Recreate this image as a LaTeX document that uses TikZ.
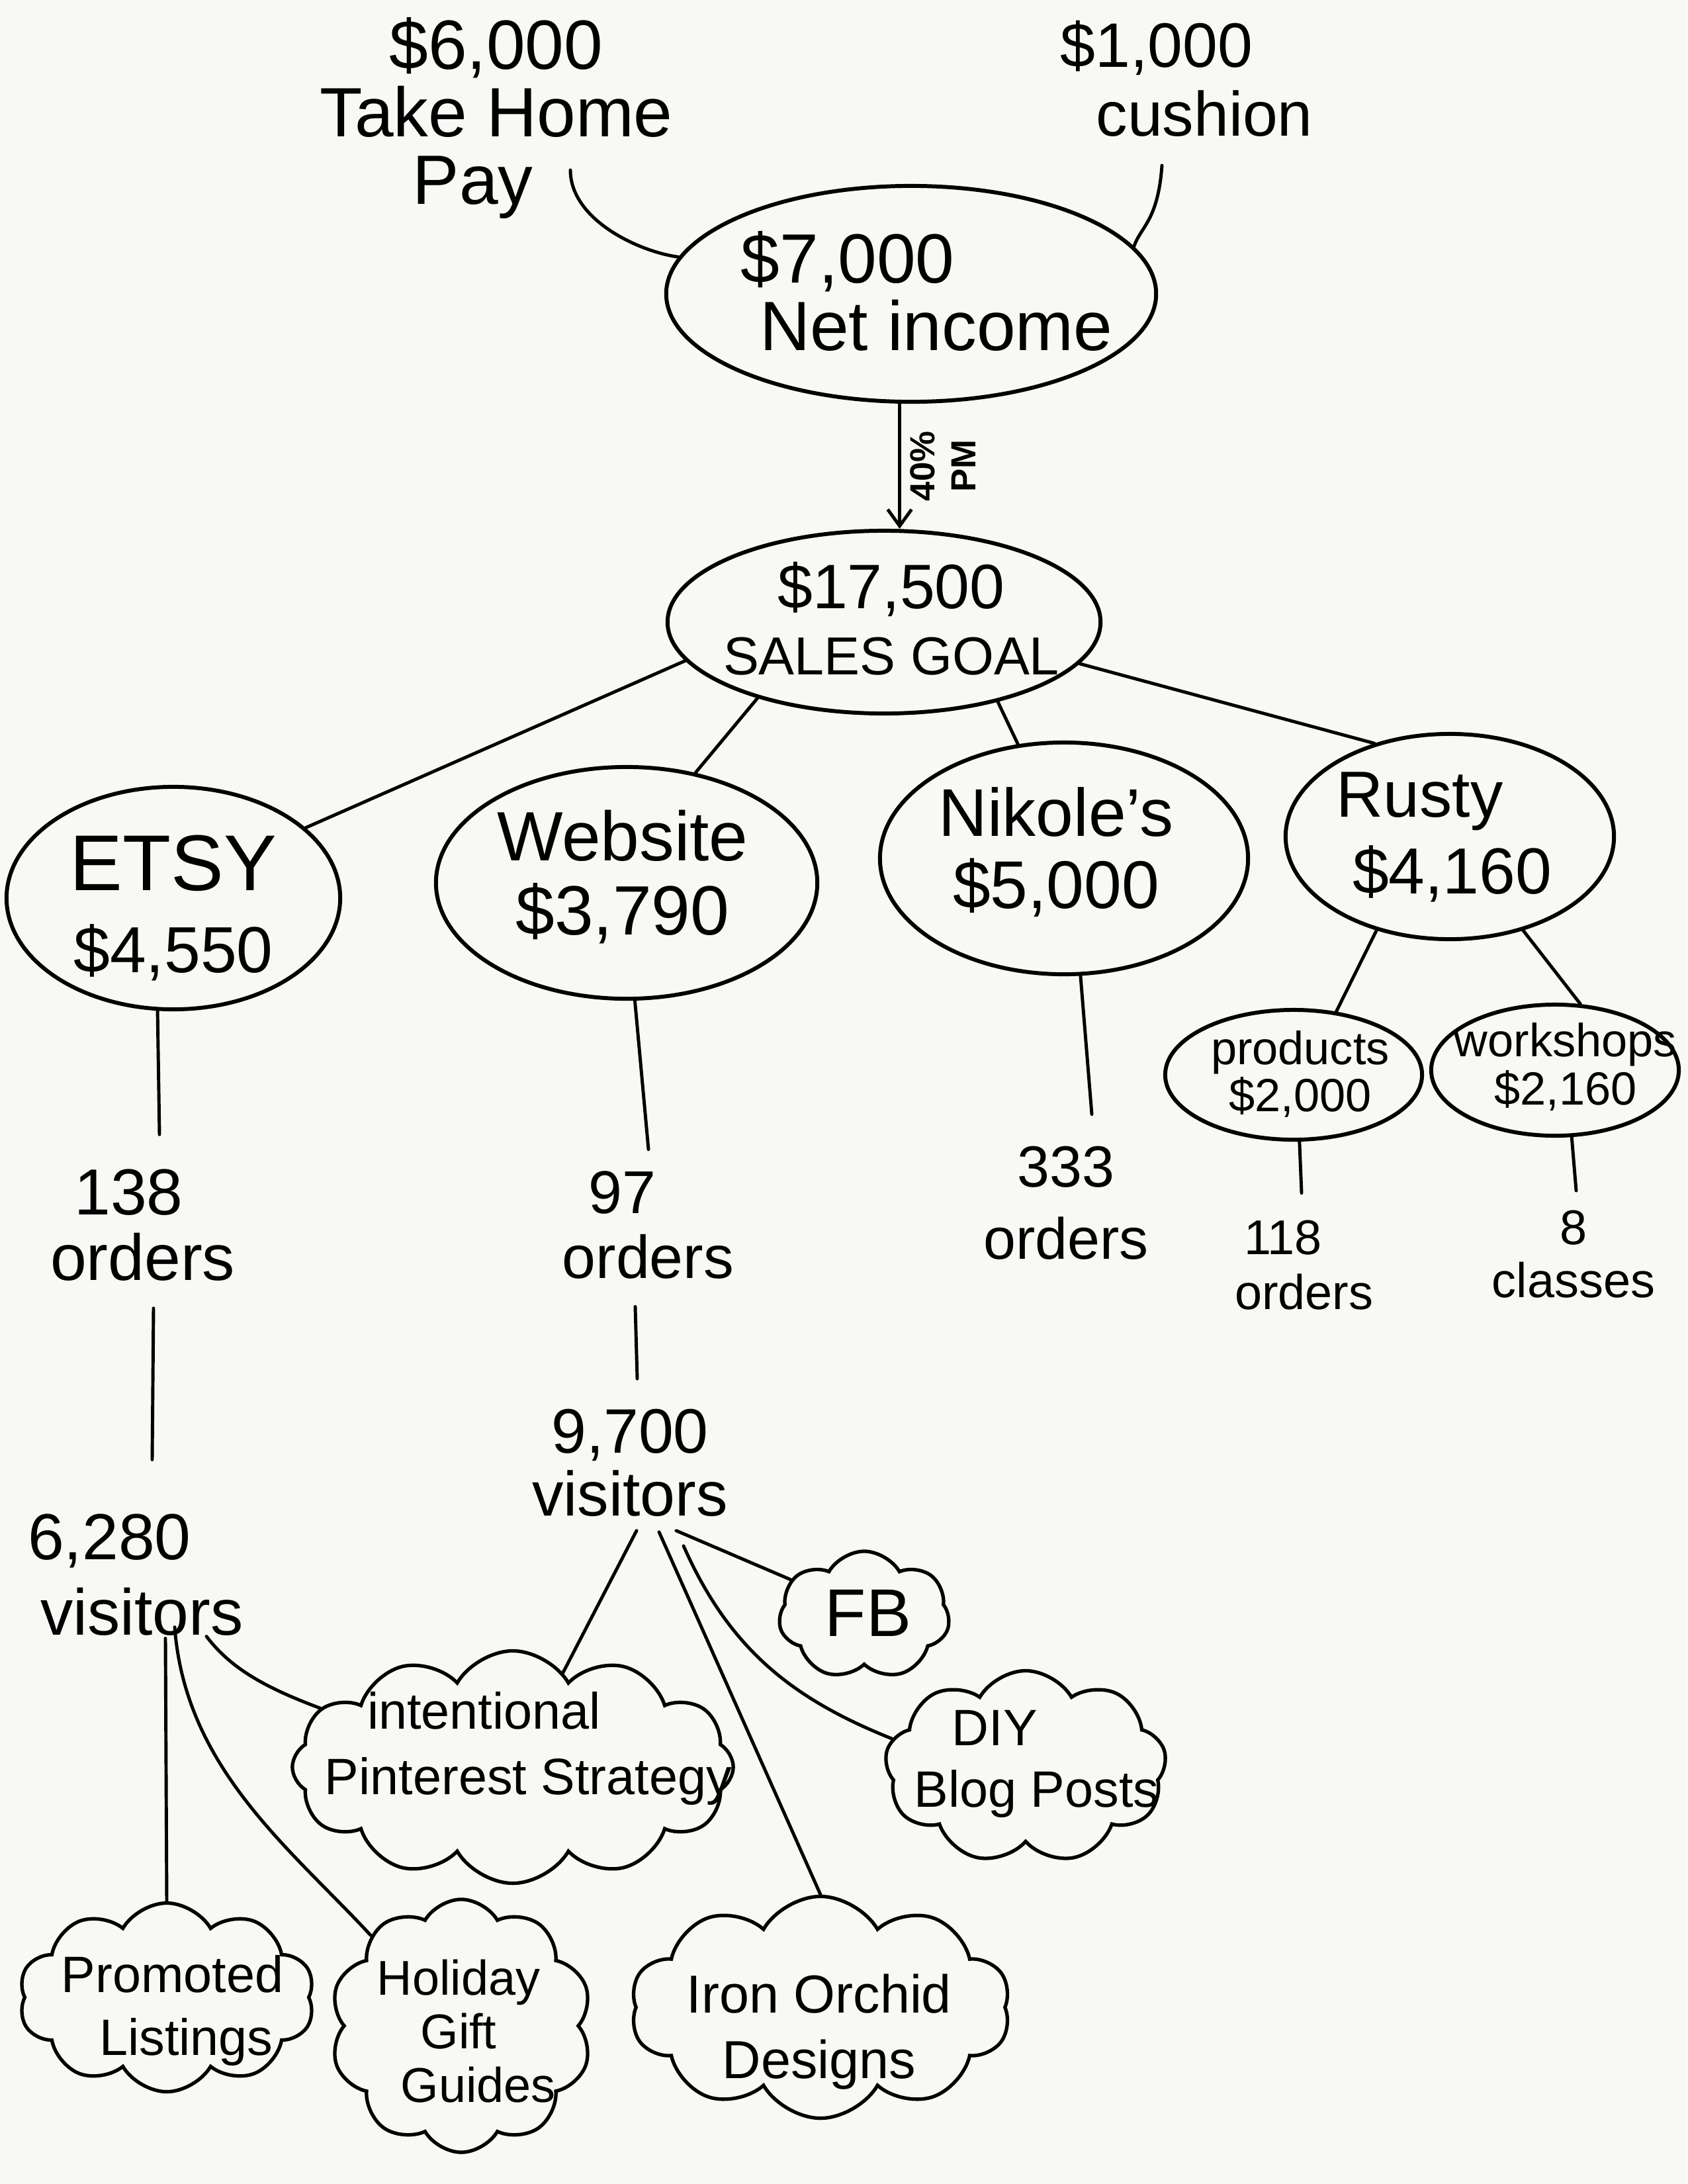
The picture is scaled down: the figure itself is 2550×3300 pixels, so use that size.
\documentclass[tikz,border=0pt]{standalone}
\usepackage{fontspec}
\setmainfont{Liberation Sans}
\usetikzlibrary{shapes.geometric,shapes.symbols,arrows.meta,calc}
\definecolor{paper}{RGB}{248,248,244}
\newcommand{\myfs}[2]{\fontsize{#1}{#2}\selectfont}
\begin{document}
\begin{tikzpicture}[x=0.01cm,y=-0.01cm,
 oval/.style={draw, ellipse, line width=1.7pt, inner sep=0pt},
 puff/.style={draw, cloud, cloud puffs=#1, cloud puff arc=120, cloud ignores aspect, line width=1.5pt, inner sep=0pt},
 txt/.style={align=center, inner sep=0pt},
 conn/.style={line width=1.4pt, line cap=round},
]
\fill[paper] (0,0) rectangle (2550,3300);
\useasboundingbox (0,0) rectangle (2550,3300);

% ovals
\node[oval, minimum width=7.4cm, minimum height=3.26cm] (ni) at (1377,444) {};
\node[oval, minimum width=6.54cm, minimum height=2.76cm] (sg) at (1336,940) {};
\node[oval, minimum width=5.04cm, minimum height=3.36cm] (et) at (262,1357) {};
\node[oval, minimum width=5.76cm, minimum height=3.5cm] (wb) at (947,1334) {};
\node[oval, minimum width=5.56cm, minimum height=3.5cm] (nk) at (1608,1297) {};
\node[oval, minimum width=4.96cm, minimum height=3.1cm] (rs) at (2191,1264) {};
\node[oval, minimum width=3.88cm, minimum height=1.96cm] (pr) at (1955,1624) {};
\node[oval, minimum width=3.74cm, minimum height=1.98cm] (ws) at (2350,1617) {};

% clouds
\node[puff=7, minimum width=2.58cm, minimum height=1.94cm] (fb) at (1306,2441) {};
\node[puff=12, minimum width=6.66cm, minimum height=3.51cm] (pin) at (775,2670) {};
\node[puff=9, minimum width=4.25cm, minimum height=2.91cm] (diy) at (1550,2670) {};
\node[puff=10, minimum width=4.47cm, minimum height=2.85cm] (pro) at (252,3018) {};
\node[puff=10, minimum width=3.96cm, minimum height=3.82cm] (hol) at (697,3061) {};
\node[puff=10, minimum width=5.74cm, minimum height=3.35cm] (io) at (1240,3033) {};

% texts
\node[txt, font=\myfs{30}{29}] (tpay) at (750,178) {\$6,000\\Take Home\\Pay\hspace*{20pt}};
\node[txt, font=\myfs{27}{29.5}] (cush) at (1785,119) {\$1,000\hspace*{21pt}\\\hspace*{20pt}cushion};
\node[txt, font=\myfs{30}{29}] (niT) at (1348,440) {\$7,000\hspace*{38pt}\\\hspace*{38pt}Net income};
\node[txt, font=\myfs{23}{28.5}] (sgT) at (1347,935) {{\myfs{27}{28.5}\$17,500}\\SALES GOAL};
\node[txt, font=\myfs{28}{35}] (etT) at (262,1372) {{\myfs{34}{35}ETSY}\\\$4,550};
\node[txt, font=\myfs{30}{32}] (wbT) at (941,1325) {Website\\\$3,790};
\node[txt, font=\myfs{29}{31}] (nkT) at (1596,1288) {Nikole's\\\$5,000};
\node[txt, font=\myfs{28}{33}] (rsT) at (2170,1265) {Rusty\hspace*{14pt}\\\hspace*{14pt}\$4,160};
\node[txt, font=\myfs{20}{20}] (prT) at (1965,1623) {products\\\$2,000};
\node[txt, font=\myfs{20}{20.5}] (wsT) at (2366,1612) {workshops\\\$2,160};

\node[txt, font=\myfs{28}{28}] (o138) at (205,1851) {138\hspace*{6pt}\\\hspace*{6pt}orders};
\node[txt, font=\myfs{26}{28}] (o97) at (960,1851) {97\hspace*{11pt}\\\hspace*{11pt}orders};
\node[txt, font=\myfs{25}{31}] (o333) at (1611,1818) {333\\orders};
\node[txt, font=\myfs{21}{23.6}] (o118) at (1955,1912) {118\hspace*{9pt}\\\hspace*{9pt}orders};
\node[txt, font=\myfs{21}{22.8}] (cl8) at (2378,1895) {8\\classes};
\node[txt, font=\myfs{28}{32.4}] (v6280) at (190,2380) {6,280\hspace*{14pt}\\\hspace*{14pt}visitors};
\node[txt, font=\myfs{27}{27}] (v9700) at (952,2210) {9,700\\visitors};

\node[txt, font=\myfs{29}{29}] (fbT) at (1312,2437) {FB};
\node[txt, font=\myfs{22}{28}] (pinT) at (765,2642) {intentional\hspace*{19pt}\\\hspace*{19pt}Pinterest Strategy};
\node[txt, font=\myfs{22}{26.5}] (diyT) at (1535,2665) {DIY\hspace*{18pt}\\\hspace*{18pt}Blog Posts};
\node[txt, font=\myfs{22}{27}] (proT) at (271,3038) {Promoted\hspace*{6pt}\\\hspace*{6pt}Listings};
\node[txt, font=\myfs{21}{23}] (holT) at (693,3069) {Holiday\\Gift\hspace*{19pt}\\\hspace*{17pt}Guides};
\node[txt, font=\myfs{23}{28}] (ioT) at (1238,3070) {Iron Orchid\\Designs};

% connectors top
\draw[conn] ($(tpay.center)+(112,79)$) .. controls ($(tpay.center)+(112,154)$) and ($(ni.171)+(-60,-8)$) .. (ni.171);
\draw[conn] ($(cush.center)+(-29,131)$) .. controls ($(cush.center)+(-35,215)$) and ($(ni.12)+(10,-30)$) .. (ni.12);
\draw[conn, -{Straight Barb[length=0.25cm, width=0.36cm]}] (ni.264) -- (ni.264 |- sg.north)
  node[pos=0.5, rotate=90, anchor=north, align=center, inner sep=4pt, font=\myfs{15}{17.5}\bfseries] (pm) {40\%\\PM};

\draw[conn] (sg.191) -- (et.28);
\draw[conn] (sg.211) -- (wb.58);
\draw[conn] (sg.325) -- (nk.112);
\draw[conn] (sg.348) -- (rs.129);
\draw[conn] (rs.232) -- (pr.56);
\draw[conn] (rs.308) -- (ws.69);

% orders
\draw[conn] (et.262) -- ($(o138.north)+(36,-52)$);
\draw[conn] ($(o138.south)+(27,41)$) -- ($(v6280.north)+(40,-82)$);
\draw[conn] (wb.274) -- ($(o97.north)+(20,-32)$);
\draw[conn] ($(o97.south)+(0,41)$) -- ($(v9700.north)+(11,-45)$);
\draw[conn] (nk.278) -- ($(o333.north)+(39,-48)$);
\draw[conn] (pr.275) -- ($(o118.north)+(12,-41)$);
\draw[conn] (ws.284) -- ($(cl8.north)+(4,-29)$);

% visitors to clouds
\draw[conn] ($(v6280.south)+(122,0)$) .. controls ($(v6280.south)+(160,50)$) and ($(pin.163)+(-80,-30)$) .. (pin.163);
\draw[conn] ($(v6280.south)+(60,3)$) -- (pro.north);
\draw[conn] ($(v6280.south)+(74,-14)$) .. controls ($(v6280.south)+(90,200)$) and ($(hol.135)+(-120,-130)$) .. (hol.135);
\draw[conn] ($(v9700.south)+(10,21)$) -- (pin.62);
\draw[conn] ($(v9700.south)+(44,23)$) -- (io.north);
\draw[conn] ($(v9700.south)+(81,44)$) .. controls ($(v9700.south)+(150,200)$) and ($(diy.168)+(-150,-60)$) .. (diy.168);
\draw[conn] ($(v9700.south)+(70,21)$) -- (fb.154);
\end{tikzpicture}
\end{document}
